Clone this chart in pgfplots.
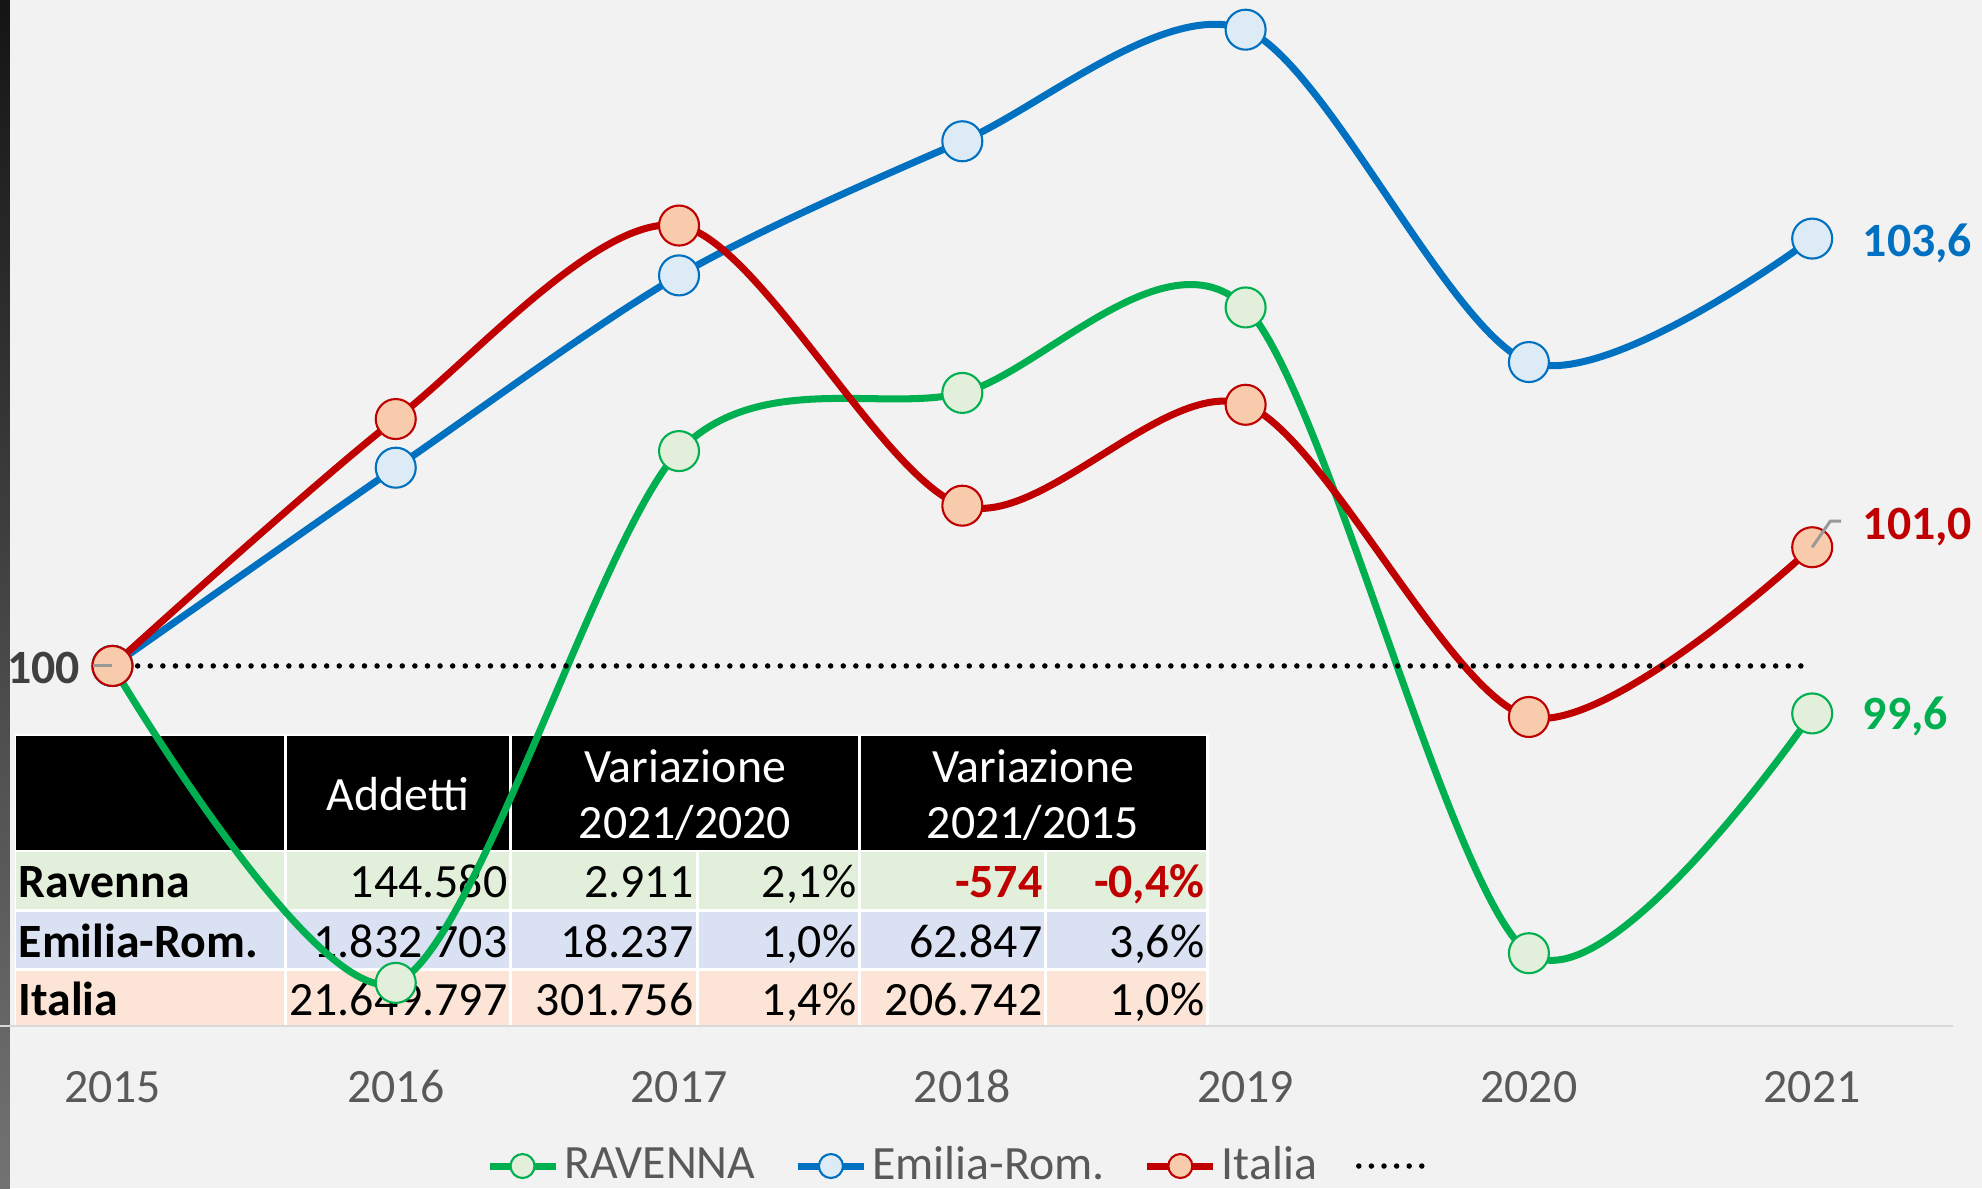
\documentclass[border=0pt]{standalone}
\usepackage{pgfplots}
\pgfplotsset{compat=1.18}
\usepackage{fontspec}
\setmainfont{Carlito}
\definecolor{bg}{HTML}{F2F2F2}
\definecolor{cgreen}{HTML}{00B050}
\definecolor{cblue}{HTML}{0070C0}
\definecolor{cred}{HTML}{C00000}
\definecolor{fgreen}{HTML}{E2EFDA}
\definecolor{fblue}{HTML}{DDEBF7}
\definecolor{fred}{HTML}{F8CBAD}
\definecolor{rgreen}{HTML}{E2EFDA}
\definecolor{rblue}{HTML}{D9E1F2}
\definecolor{rred}{HTML}{FCE4D6}
\definecolor{tgray}{HTML}{595959}
\definecolor{lgray}{HTML}{404040}
\newcommand{\fs}{\fontsize{13.6}{16}\selectfont}

\begin{document}
\begin{tikzpicture}
\useasboundingbox (0,0) rectangle (198.2mm,118.8mm);
\fill[bg] (0,0) rectangle (198.2mm,118.8mm);
\shade[top color=black!92, bottom color=black!55] (0,0) rectangle (1mm,118.8mm);
\begin{scope}[x=0.1mm,y=-0.1mm,shift={(0mm,118.8mm)}]
  % table
  \fill[white] (15,734) rectangle (1209,1027);
  \fill[black] (16,736) rectangle (284,850);
  \fill[black] (287,736) rectangle (509,850);
  \fill[black] (512,736) rectangle (858,850);
  \fill[black] (861,736) rectangle (1206,850);
  \foreach \ya/\yb/\c in {852/909/rgreen, 912/968/rblue, 971/1025/rred}{
    \fill[\c] (16,\ya) rectangle (284,\yb);
    \fill[\c] (287,\ya) rectangle (509,\yb);
    \fill[\c] (512,\ya) rectangle (696,\yb);
    \fill[\c] (699,\ya) rectangle (858,\yb);
    \fill[\c] (861,\ya) rectangle (1044,\yb);
    \fill[\c] (1047,\ya) rectangle (1206,\yb);
  }
  \begin{scope}[every node/.style={inner sep=0pt, font=\fs}]
  \node[anchor=base, text=white] at (398,810) {Addetti};
  \node[anchor=base, text=white] at (685,782) {Variazione};
  \node[anchor=base, text=white] at (685,838) {2021/2020};
  \node[anchor=base, text=white] at (1033,782) {Variazione};
  \node[anchor=base, text=white] at (1033,838) {2021/2015};
  % Ravenna
  \node[anchor=base west, font=\fs\bfseries] at (18,897) {Ravenna};
  \node[anchor=base east] at (508,897) {144.580};
  \node[anchor=base east] at (694,897) {2.911};
  \node[anchor=base east] at (857,897) {2,1\%};
  \node[anchor=base east, font=\fs\bfseries, text=cred] at (1043,897) {-574};
  \node[anchor=base east, font=\fs\bfseries, text=cred] at (1205,897) {-0,4\%};
  % Emilia
  \node[anchor=base west, font=\fs\bfseries] at (18,957) {Emilia-Rom.};
  \node[anchor=base east] at (508,957) {1.832.703};
  \node[anchor=base east] at (694,957) {18.237};
  \node[anchor=base east] at (857,957) {1,0\%};
  \node[anchor=base east] at (1043,957) {62.847};
  \node[anchor=base east] at (1205,957) {3,6\%};
  % Italia
  \node[anchor=base west, font=\fs\bfseries] at (18,1015) {Italia};
  \node[anchor=base east] at (508,1015) {21.649.797};
  \node[anchor=base east] at (694,1015) {301.756};
  \node[anchor=base east] at (857,1015) {1,4\%};
  \node[anchor=base east] at (1043,1015) {206.742};
  \node[anchor=base east] at (1205,1015) {1,0\%};
  \end{scope}
\end{scope}

\begin{axis}[
  at={(0mm,118.8mm)}, anchor=north west,
  scale only axis, width=195.3mm, height=102.6mm,
  xmin=-0.397, xmax=6.497, ymin=96.967, ymax=105.61,
  axis x line=bottom, axis y line=none,
  x axis line style={-, draw=black!15, line width=0.2mm},
  xtick={0,...,6}, xticklabels={2015,2016,2017,2018,2019,2020,2021},
  ytick=\empty,
  major tick length=0pt,
  xticklabel style={anchor=base, yshift=-7.7mm, font=\fs, text=tgray},
  /pgf/number format/assume math mode=true,
  clip=false,
  legend columns=4,
  legend style={at={(0.2485,-0.1365)}, anchor=west, draw=none, fill=none,
    font=\fs, text=tgray, column sep=0mm, inner sep=0pt,
    nodes={inner xsep=0.5mm, inner ysep=0pt},
    /tikz/every even column/.append style={column sep=3.4mm}},
  legend cell align=left,
  legend image code/.code={\draw[mark repeat=2,mark phase=2,#1,mark size=1.2mm] plot coordinates {(0mm,0mm) (3.3mm,0mm) (6.6mm,0mm)};},
]
\addplot[cgreen, line width=2pt, smooth, tension=0.5, mark=*, mark size=2mm,
  mark options={fill=fgreen, draw=cgreen, line width=0.6pt}]
  coordinates {(0,100)(1,97.33)(2,101.81)(3,102.30)(4,103.02)(5,97.58)(6,99.6)};
\addlegendentry{RAVENNA}
\addplot[cblue, line width=2pt, smooth, tension=0.5, mark=*, mark size=2mm,
  mark options={fill=fblue, draw=cblue, line width=0.6pt}]
  coordinates {(0,100)(1,101.67)(2,103.29)(3,104.42)(4,105.36)(5,102.56)(6,103.6)};
\addlegendentry{Emilia-Rom.}
\addplot[cred, line width=2pt, smooth, tension=0.5, mark=*, mark size=2mm,
  mark options={fill=fred, draw=cred, line width=0.6pt}]
  coordinates {(0,100)(1,102.08)(2,103.71)(3,101.35)(4,102.20)(5,99.57)(6,101.0)};
\addlegendentry{Italia}
\addplot[black, line width=0.55mm, dash pattern=on 0pt off 1.26mm, line cap=round]
  coordinates {(0,100)(6,100)};
\addlegendentry{}

\coordinate (p100) at (axis cs:0,100);
\coordinate (p101) at (axis cs:6,101);
\node[anchor=base east, inner sep=0pt, font=\fs\bfseries, text=lgray, xshift=-3.2mm, yshift=-1.8mm] at (axis cs:0,100) {100};
\node[anchor=base west, inner sep=0pt, font=\fs\bfseries, text=cblue, xshift=5mm, yshift=-1.83mm] at (axis cs:6,103.6) {103,6};
\node[anchor=base west, inner sep=0pt, font=\fs\bfseries, text=cred, xshift=5mm, yshift=0.73mm] at (axis cs:6,101.0) {101,0};
\node[anchor=base west, inner sep=0pt, font=\fs\bfseries, text=cgreen, xshift=5mm, yshift=-1.65mm] at (axis cs:6,99.6) {99,6};
\end{axis}
\draw[black!40, line width=0.3mm] (p100) -- ++(-1.9mm,0mm);
\draw[black!40, line width=0.3mm] (p101) -- ++(1.8mm,2.6mm) -- ++(1.1mm,0mm);
\end{tikzpicture}
\end{document}
